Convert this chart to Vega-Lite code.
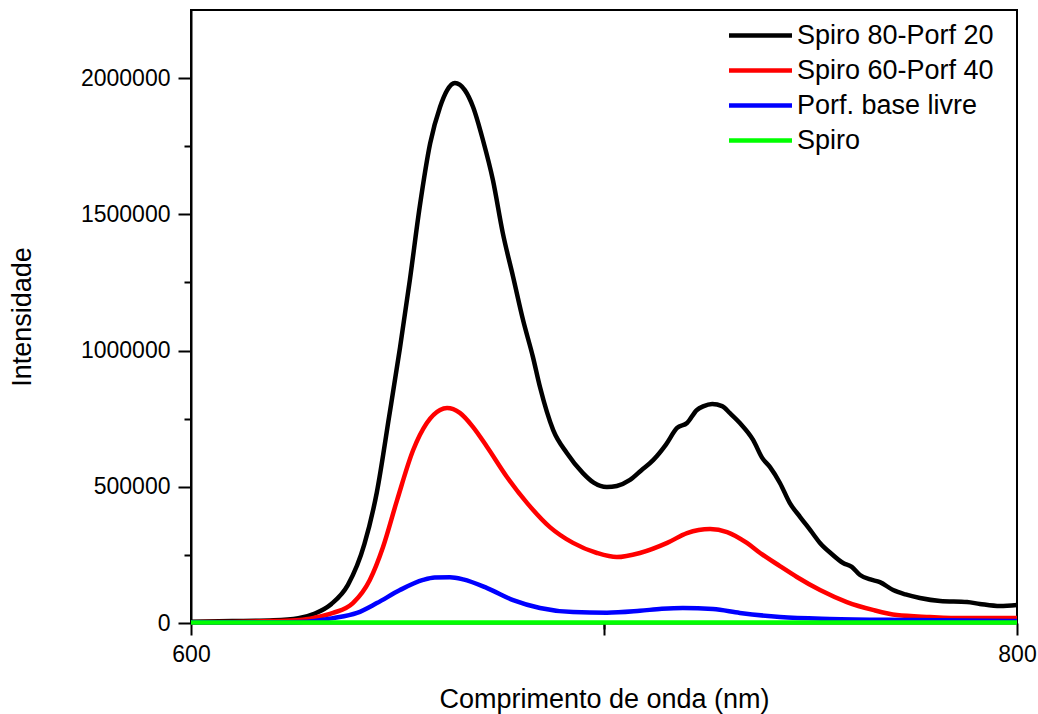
{
  "$schema": "https://vega.github.io/schema/vega-lite/v6.json",
  "width": 826,
  "height": 613,
  "autosize": "none",
  "padding": {"left": 191, "top": 10, "right": 21, "bottom": 91},
  "background": "white",
  "config": {
    "font": "Liberation Sans",
    "view": {"stroke": "black", "strokeWidth": 2},
    "axis": {
      "domainColor": "black",
      "domainWidth": 2,
      "tickColor": "black",
      "tickWidth": 2,
      "grid": false,
      "labelColor": "black",
      "labelFont": "Liberation Sans",
      "labelFontSize": 23,
      "labelFlush": false,
      "titleFont": "Liberation Sans",
      "titleFontSize": 27,
      "titleFontWeight": "normal",
      "titleColor": "black"
    },
    "legend": {
      "orient": "none",
      "legendX": 556,
      "legendY": 12,
      "padding": 0,
      "symbolType": "M-4,0H4",
      "symbolSize": 248,
      "labelFont": "Liberation Sans",
      "labelFontSize": 27,
      "labelColor": "black",
      "labelOffset": 23,
      "labelLimit": 0,
      "rowPadding": 7
    }
  },
  "data": {
    "values": [
      {"s": "Spiro 80-Porf 20", "wl": 600, "I": 5000},
      {"s": "Spiro 80-Porf 20", "wl": 610, "I": 7000},
      {"s": "Spiro 80-Porf 20", "wl": 620, "I": 10000},
      {"s": "Spiro 80-Porf 20", "wl": 626, "I": 18000},
      {"s": "Spiro 80-Porf 20", "wl": 630, "I": 35000},
      {"s": "Spiro 80-Porf 20", "wl": 634, "I": 70000},
      {"s": "Spiro 80-Porf 20", "wl": 638, "I": 140000},
      {"s": "Spiro 80-Porf 20", "wl": 642, "I": 290000},
      {"s": "Spiro 80-Porf 20", "wl": 645, "I": 480000},
      {"s": "Spiro 80-Porf 20", "wl": 648, "I": 760000},
      {"s": "Spiro 80-Porf 20", "wl": 650.6, "I": 1010000},
      {"s": "Spiro 80-Porf 20", "wl": 653, "I": 1260000},
      {"s": "Spiro 80-Porf 20", "wl": 655.4, "I": 1530000},
      {"s": "Spiro 80-Porf 20", "wl": 657.9, "I": 1760000},
      {"s": "Spiro 80-Porf 20", "wl": 660.3, "I": 1894000},
      {"s": "Spiro 80-Porf 20", "wl": 662, "I": 1955000},
      {"s": "Spiro 80-Porf 20", "wl": 663.9, "I": 1982000},
      {"s": "Spiro 80-Porf 20", "wl": 666.3, "I": 1956000},
      {"s": "Spiro 80-Porf 20", "wl": 668.3, "I": 1894000},
      {"s": "Spiro 80-Porf 20", "wl": 670.7, "I": 1772000},
      {"s": "Spiro 80-Porf 20", "wl": 673.1, "I": 1626000},
      {"s": "Spiro 80-Porf 20", "wl": 675.5, "I": 1431000},
      {"s": "Spiro 80-Porf 20", "wl": 678, "I": 1270000},
      {"s": "Spiro 80-Porf 20", "wl": 680.4, "I": 1112000},
      {"s": "Spiro 80-Porf 20", "wl": 682.8, "I": 976000},
      {"s": "Spiro 80-Porf 20", "wl": 684.5, "I": 866000},
      {"s": "Spiro 80-Porf 20", "wl": 687.7, "I": 708000},
      {"s": "Spiro 80-Porf 20", "wl": 691, "I": 624000},
      {"s": "Spiro 80-Porf 20", "wl": 694.9, "I": 550000},
      {"s": "Spiro 80-Porf 20", "wl": 697.5, "I": 515000},
      {"s": "Spiro 80-Porf 20", "wl": 700.7, "I": 499000},
      {"s": "Spiro 80-Porf 20", "wl": 703.1, "I": 503000},
      {"s": "Spiro 80-Porf 20", "wl": 706.3, "I": 525000},
      {"s": "Spiro 80-Porf 20", "wl": 709, "I": 560000},
      {"s": "Spiro 80-Porf 20", "wl": 711.9, "I": 598000},
      {"s": "Spiro 80-Porf 20", "wl": 715, "I": 655000},
      {"s": "Spiro 80-Porf 20", "wl": 717.7, "I": 716000},
      {"s": "Spiro 80-Porf 20", "wl": 720.1, "I": 734000},
      {"s": "Spiro 80-Porf 20", "wl": 722.5, "I": 782000},
      {"s": "Spiro 80-Porf 20", "wl": 724, "I": 795000},
      {"s": "Spiro 80-Porf 20", "wl": 726.2, "I": 804000},
      {"s": "Spiro 80-Porf 20", "wl": 728.6, "I": 796000},
      {"s": "Spiro 80-Porf 20", "wl": 730.5, "I": 770000},
      {"s": "Spiro 80-Porf 20", "wl": 732.9, "I": 734000},
      {"s": "Spiro 80-Porf 20", "wl": 736.1, "I": 672000},
      {"s": "Spiro 80-Porf 20", "wl": 738.3, "I": 606000},
      {"s": "Spiro 80-Porf 20", "wl": 740.2, "I": 572000},
      {"s": "Spiro 80-Porf 20", "wl": 742.6, "I": 514000},
      {"s": "Spiro 80-Porf 20", "wl": 745, "I": 440000},
      {"s": "Spiro 80-Porf 20", "wl": 747.5, "I": 389000},
      {"s": "Spiro 80-Porf 20", "wl": 750, "I": 340000},
      {"s": "Spiro 80-Porf 20", "wl": 752.3, "I": 294000},
      {"s": "Spiro 80-Porf 20", "wl": 755, "I": 255000},
      {"s": "Spiro 80-Porf 20", "wl": 757.9, "I": 220000},
      {"s": "Spiro 80-Porf 20", "wl": 760, "I": 206000},
      {"s": "Spiro 80-Porf 20", "wl": 762, "I": 176000},
      {"s": "Spiro 80-Porf 20", "wl": 764.5, "I": 160000},
      {"s": "Spiro 80-Porf 20", "wl": 766.8, "I": 150000},
      {"s": "Spiro 80-Porf 20", "wl": 770, "I": 121000},
      {"s": "Spiro 80-Porf 20", "wl": 773, "I": 105000},
      {"s": "Spiro 80-Porf 20", "wl": 776.5, "I": 92000},
      {"s": "Spiro 80-Porf 20", "wl": 781.4, "I": 81000},
      {"s": "Spiro 80-Porf 20", "wl": 787.9, "I": 77000},
      {"s": "Spiro 80-Porf 20", "wl": 791, "I": 70000},
      {"s": "Spiro 80-Porf 20", "wl": 795.9, "I": 62000},
      {"s": "Spiro 80-Porf 20", "wl": 800, "I": 66000},

      {"s": "Spiro 60-Porf 40", "wl": 600, "I": 3000},
      {"s": "Spiro 60-Porf 40", "wl": 610, "I": 4000},
      {"s": "Spiro 60-Porf 40", "wl": 620, "I": 7000},
      {"s": "Spiro 60-Porf 40", "wl": 626.4, "I": 11000},
      {"s": "Spiro 60-Porf 40", "wl": 630, "I": 20000},
      {"s": "Spiro 60-Porf 40", "wl": 634.4, "I": 37000},
      {"s": "Spiro 60-Porf 40", "wl": 639.2, "I": 73000},
      {"s": "Spiro 60-Porf 40", "wl": 643.3, "I": 158000},
      {"s": "Spiro 60-Porf 40", "wl": 646.5, "I": 279000},
      {"s": "Spiro 60-Porf 40", "wl": 649.9, "I": 451000},
      {"s": "Spiro 60-Porf 40", "wl": 653.8, "I": 635000},
      {"s": "Spiro 60-Porf 40", "wl": 657.1, "I": 734000},
      {"s": "Spiro 60-Porf 40", "wl": 660.3, "I": 782000},
      {"s": "Spiro 60-Porf 40", "wl": 662, "I": 789000},
      {"s": "Spiro 60-Porf 40", "wl": 665.1, "I": 771000},
      {"s": "Spiro 60-Porf 40", "wl": 668.3, "I": 719000},
      {"s": "Spiro 60-Porf 40", "wl": 671.7, "I": 646000},
      {"s": "Spiro 60-Porf 40", "wl": 676.5, "I": 536000},
      {"s": "Spiro 60-Porf 40", "wl": 681.4, "I": 440000},
      {"s": "Spiro 60-Porf 40", "wl": 686.9, "I": 352000},
      {"s": "Spiro 60-Porf 40", "wl": 692.5, "I": 294000},
      {"s": "Spiro 60-Porf 40", "wl": 698.3, "I": 257000},
      {"s": "Spiro 60-Porf 40", "wl": 703.1, "I": 242000},
      {"s": "Spiro 60-Porf 40", "wl": 708.7, "I": 257000},
      {"s": "Spiro 60-Porf 40", "wl": 715.3, "I": 294000},
      {"s": "Spiro 60-Porf 40", "wl": 720.1, "I": 330000},
      {"s": "Spiro 60-Porf 40", "wl": 725.7, "I": 345000},
      {"s": "Spiro 60-Porf 40", "wl": 729.8, "I": 334000},
      {"s": "Spiro 60-Porf 40", "wl": 734.6, "I": 294000},
      {"s": "Spiro 60-Porf 40", "wl": 737.8, "I": 257000},
      {"s": "Spiro 60-Porf 40", "wl": 742.6, "I": 209000},
      {"s": "Spiro 60-Porf 40", "wl": 746.7, "I": 169000},
      {"s": "Spiro 60-Porf 40", "wl": 752.3, "I": 121000},
      {"s": "Spiro 60-Porf 40", "wl": 758.8, "I": 77000},
      {"s": "Spiro 60-Porf 40", "wl": 765.1, "I": 48000},
      {"s": "Spiro 60-Porf 40", "wl": 770.9, "I": 29000},
      {"s": "Spiro 60-Porf 40", "wl": 778.9, "I": 22000},
      {"s": "Spiro 60-Porf 40", "wl": 786.9, "I": 18000},
      {"s": "Spiro 60-Porf 40", "wl": 800, "I": 18000},

      {"s": "Porf. base livre", "wl": 600, "I": 3000},
      {"s": "Porf. base livre", "wl": 620, "I": 3000},
      {"s": "Porf. base livre", "wl": 626.4, "I": 4000},
      {"s": "Porf. base livre", "wl": 634.4, "I": 18000},
      {"s": "Porf. base livre", "wl": 640.2, "I": 37000},
      {"s": "Porf. base livre", "wl": 645, "I": 73000},
      {"s": "Porf. base livre", "wl": 650.6, "I": 121000},
      {"s": "Porf. base livre", "wl": 656.2, "I": 158000},
      {"s": "Porf. base livre", "wl": 659, "I": 167000},
      {"s": "Porf. base livre", "wl": 662.7, "I": 168000},
      {"s": "Porf. base livre", "wl": 665.9, "I": 160000},
      {"s": "Porf. base livre", "wl": 671.7, "I": 128000},
      {"s": "Porf. base livre", "wl": 678, "I": 84000},
      {"s": "Porf. base livre", "wl": 684.5, "I": 55000},
      {"s": "Porf. base livre", "wl": 692.5, "I": 40000},
      {"s": "Porf. base livre", "wl": 700.7, "I": 38000},
      {"s": "Porf. base livre", "wl": 708.7, "I": 45000},
      {"s": "Porf. base livre", "wl": 714, "I": 52000},
      {"s": "Porf. base livre", "wl": 719.1, "I": 55000},
      {"s": "Porf. base livre", "wl": 726.4, "I": 51000},
      {"s": "Porf. base livre", "wl": 732.9, "I": 37000},
      {"s": "Porf. base livre", "wl": 742.6, "I": 22000},
      {"s": "Porf. base livre", "wl": 754.7, "I": 15000},
      {"s": "Porf. base livre", "wl": 774.8, "I": 11000},
      {"s": "Porf. base livre", "wl": 800, "I": 7000},

      {"s": "Spiro", "wl": 600, "I": 1500},
      {"s": "Spiro", "wl": 650, "I": 1500},
      {"s": "Spiro", "wl": 700, "I": 1500},
      {"s": "Spiro", "wl": 750, "I": 1500},
      {"s": "Spiro", "wl": 800, "I": 1500}
    ]
  },
  "layer": [
    {
      "mark": {"type": "line", "interpolate": "monotone"},
      "encoding": {
        "x": {
          "field": "wl", "type": "quantitative",
          "scale": {"domain": [600, 800], "nice": false, "zero": false},
          "axis": {"values": [600, 700, 800], "labelExpr": "datum.value == 700 ? '' : datum.label", "tickSize": 12, "labelPadding": 8, "title": "Comprimento de onda (nm)", "titlePadding": 20}
        },
        "y": {
          "field": "I", "type": "quantitative",
          "scale": {"domain": [0, 2250000], "nice": false},
          "axis": {"values": [0, 500000, 1000000, 1500000, 2000000], "format": "d", "tickSize": 13, "labelPadding": 8, "title": "Intensidade", "titlePadding": 44}
        },
        "color": {
          "field": "s", "type": "nominal", "sort": null,
          "scale": {"domain": ["Spiro 80-Porf 20", "Spiro 60-Porf 40", "Porf. base livre", "Spiro"], "range": ["#000000", "#ff0000", "#0000ff", "#00ff00"]},
          "legend": {"title": null}
        },
        "strokeWidth": {
          "field": "s", "type": "nominal", "sort": null,
          "scale": {"domain": ["Spiro 80-Porf 20", "Spiro 60-Porf 40", "Porf. base livre", "Spiro"], "range": [4.5, 4.5, 4.5, 2]},
          "legend": {"title": null}
        }
      }
    },
    {
      "mark": {"type": "line", "strokeOpacity": 0},
      "encoding": {
        "x": {
          "field": "wl", "type": "quantitative",
          "axis": {"orient": "bottom", "values": [700], "labels": false, "domain": false, "tickSize": 6, "title": null}
        },
        "y": {
          "field": "I", "type": "quantitative",
          "axis": {"orient": "left", "values": [250000, 750000, 1250000, 1750000], "labels": false, "domain": false, "tickSize": 7, "title": null}
        },
        "detail": {"field": "s", "type": "nominal"}
      }
    }
  ],
  "resolve": {"axis": {"x": "independent", "y": "independent"}}
}
